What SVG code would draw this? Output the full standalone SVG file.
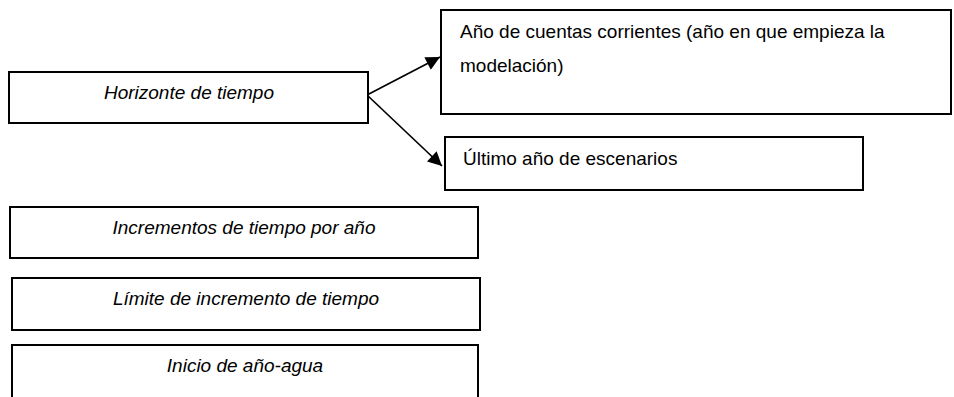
<svg xmlns="http://www.w3.org/2000/svg" width="954" height="397" viewBox="0 0 954 397">
<style>
.box{fill:#fff;stroke:#000;stroke-width:2}
.t{font-family:"Liberation Sans",Arial,sans-serif;font-size:19px;fill:#000}
.i{font-style:italic;text-anchor:middle}
.c{stroke:#000;stroke-width:1.7;fill:none}
</style>
<defs>
<marker id="ah" viewBox="0 0 10 10" refX="10" refY="5" markerWidth="17" markerHeight="14" markerUnits="userSpaceOnUse" orient="auto">
<path d="M0,0 L10,5 L0,10 z" fill="#000"/>
</marker>
</defs>
<rect width="954" height="397" fill="#fff"/>
<g id="connectors">
<line class="c" x1="367" y1="95" x2="440" y2="57" marker-end="url(#ah)"/>
<line class="c" x1="367" y1="95" x2="442" y2="166" marker-end="url(#ah)"/>
</g>
<g id="horizonte">
<rect class="box" x="9" y="72" width="359" height="51"/>
<text class="t i" x="189" y="99">Horizonte de tiempo</text>
</g>
<g id="anio-cuentas">
<rect class="box" x="441" y="10" width="510" height="104"/>
<text class="t" x="460" y="38">Año de cuentas corrientes (año en que empieza la</text>
<text class="t" x="460" y="72">modelación)</text>
</g>
<g id="ultimo">
<rect class="box" x="445" y="137" width="418" height="53"/>
<text class="t" x="463" y="165">Último año de escenarios</text>
</g>
<g id="incrementos">
<rect class="box" x="10" y="207" width="468" height="51"/>
<text class="t i" x="244" y="234">Incrementos de tiempo por año</text>
</g>
<g id="limite">
<rect class="box" x="12" y="278" width="468" height="52"/>
<text class="t i" x="246" y="305">Límite de incremento de tiempo</text>
</g>
<g id="inicio">
<rect class="box" x="12" y="345" width="466" height="60"/>
<text class="t i" x="245" y="372">Inicio de año-agua</text>
</g>
</svg>
